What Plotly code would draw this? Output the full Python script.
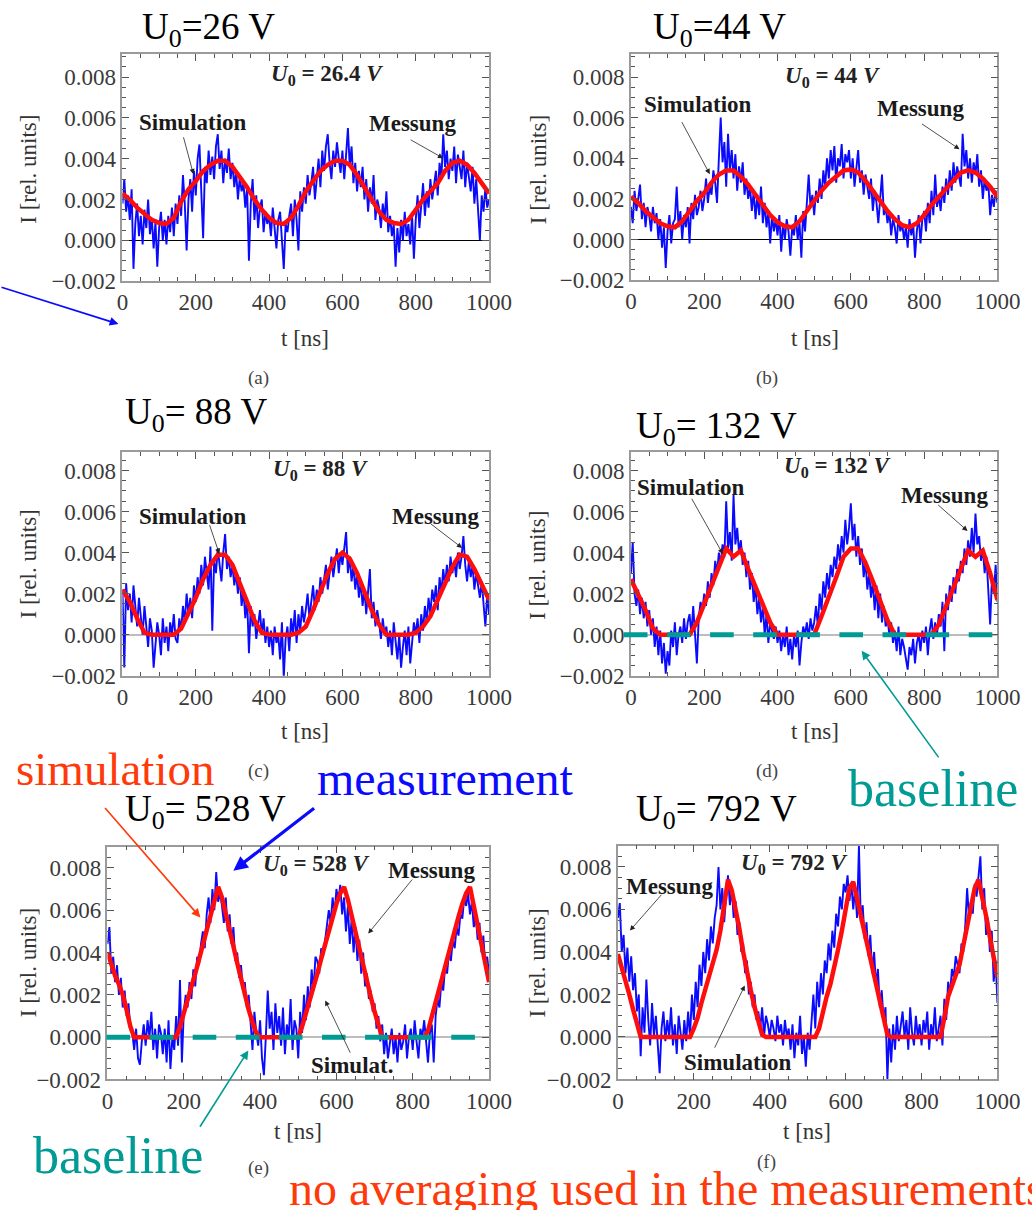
import plotly.graph_objects as go

W, H = 1032, 1210
# layout positions below are given in window pixels; the page shows the figure
# slightly reduced and shifted, so they are converted with this linear map
VIEW_KX, VIEW_BX = 0.973, 5.4
VIEW_KY, VIEW_BY = 0.990, -1.3
SCALE = 1e-4  # values below are in units of 1e-4 (rel. units)

# time grids [ns]
T_MEAS = list(range(0, 1001, 5))
T_SIM20 = list(range(0, 1001, 20))
T_SIM10 = list(range(0, 1001, 10))

# ---------------- (a) U0 = 26.4 V ----------------
SIM_A = [23, 20, 16, 13, 10, 8.5, 8, 11, 19, 25,
         29, 34, 37, 39, 39, 36, 31, 26, 20, 15,
         11, 8.5, 8, 11, 17, 24, 29, 34, 37, 39,
         39, 37, 32, 26, 20, 14, 10, 8.5, 8, 10,
         15, 20, 24, 28, 34, 38, 39, 37, 33, 28,
         23]
MEAS_A = [18, 30, 14, 22, 10, 25, -14, 8, 18, 2,
          12, -2, 15, 6, 20, 3, 11, -4, 9, -13,
          6, 14, 0, 10, -2, 12, 4, 16, 2, 18,
          8, 22, 12, 32, 18, -5, 20, 30, 14, 34,
          22, 40, 47, 25, 1, 36, 28, 44, 32, 41,
          30, 46, 52, 35, 44, 28, 40, 33, 45, 30,
          38, 26, 34, 20, 31, 24, 28, 16, 26, -10,
          18, 30, 10, 22, 6, 16, 20, 4, 14, 8,
          12, 2, 16, 6, -4, 10, 14, 0, -14, 8,
          4, 12, 18, 2, 20, 10, -5, 24, 14, 26,
          18, 32, 22, 28, 36, 20, 30, 40, 26, 44,
          34, 46, 52, 38, 30, 44, 36, 48, 40, 33,
          44, 30, 42, 55, 36, 46, 28, 38, 24, 34,
          26, 36, 20, 30, 14, 26, 18, 32, 10, 20,
          16, 6, 18, 10, 24, 4, 12, 2, 8, -13,
          6, -6, 10, 0, 14, 2, 8, -2, 12, -9,
          10, 22, 6, 18, 28, 12, 24, 16, 30, 20,
          28, 34, 22, 38, 30, 52, 36, 44, 30, 40,
          34, 46, 28, 42, 36, 30, 44, 26, 38, 32,
          24, 36, 18, 30, 12, 0, 22, 14, 26, 16,
          20]

# ---------------- (b) U0 = 44 V ----------------
SIM_B = [21, 18, 14, 11, 8, 6.5, 6, 9, 14, 19,
         23, 28, 32, 34, 34, 31, 27, 22, 17, 12,
         8.5, 6.5, 6, 9, 14, 19, 24, 28, 31, 34,
         34.5, 33, 29, 24, 19, 14, 10, 7, 6, 8,
         12, 17, 21, 25, 29, 33, 34, 33, 30, 26,
         21]
MEAS_B = [16, 8, 24, 14, 20, 27, 10, 18, 6, 16,
          12, 4, 16, 8, 13, 0, 10, -4, 6, -14,
          4, 12, -2, 8, 10, 26, 6, 14, 0, 12,
          6, 16, -2, 18, 10, 22, 12, 16, 24, 14,
          20, 30, 18, 26, 22, 34, 28, 18, 40, 60,
          38, 48, 26, 52, 34, 44, 30, 42, 24, 36,
          28, 38, 22, 30, 20, 26, 14, 24, 10, 22,
          12, 26, 8, 18, 6, 14, -2, 12, 4, 10,
          2, 12, -6, 8, 0, 10, 4, -8, 6, 2,
          12, 0, 8, -9, 14, 4, 18, 32, 16, 22,
          12, 24, 18, 30, 20, 34, 26, 40, 30, 44,
          34, 46, 28, 40, 36, 47, 30, 42, 38, 44,
          30, 40, 26, 36, 44, 28, 34, 22, 32, 26,
          20, 30, 14, 24, 18, 8, 20, 32, 12, 16,
          8, 14, 2, 10, 6, -2, 12, 4, 8, 0,
          6, -4, 10, 2, 8, -9, 4, 12, -2, 10,
          14, 4, 18, 8, 24, 12, 32, 16, 22, 14,
          26, 18, 30, 22, 34, 24, 38, 28, 36, 30,
          26, 52, 36, 44, 30, 40, 28, 38, 32, 42,
          26, 34, 20, 30, 24, 28, 12, 22, 16, 24,
          18]

# ---------------- (c) U0 = 88 V ----------------
SIM_C = [22, 16, 8, 1, 0, 0, 0, 0, 3, 10,
         18, 27, 34, 39, 39, 34, 25, 15, 7, 1,
         0, 0, 0, 0, 1, 4, 12, 21, 30, 37,
         40, 37, 30, 21, 12, 5, 0, 0, 0, 0,
         1, 4, 9, 17, 26, 33, 39, 38, 32, 25,
         17]
MEAS_C = [22, -16, 25, 12, 20, 6, 24, 14, 4, 18,
          10, 0, 14, 4, -6, 8, 2, -16, -4, 6,
          0, -10, 8, -4, 4, -8, 6, 0, 10, -2,
          -4, 8, 2, 14, 6, 20, 10, 18, 8, 24,
          16, 28, 20, 34, 24, 38, 30, 22, 43, 2,
          36, 30, 42, 34, 26, 40, 49, 32, 38, 28,
          34, 24, 30, 20, 28, 14, 22, 8, 18, -9,
          14, 4, 10, -2, 6, 12, 0, 8, -4, 4,
          -6, 2, -10, 4, -4, 0, -12, 6, -21, -2,
          4, -8, 8, 0, 12, -4, 10, 2, 14, 6,
          12, 20, 8, 16, 24, 12, 22, 16, 28, 20,
          26, 34, 22, 30, 38, 28, 36, 42, 30, 40,
          34, 44, 50, 30, 38, 26, 34, 22, 30, 18,
          26, 14, 22, 10, 20, 32, 8, 16, 4, 12,
          6, -2, 8, 0, 4, -6, 2, -10, 6, -4,
          -12, 0, -16, -6, 2, -10, 4, -14, -2, 6,
          0, 8, -4, 10, 2, 14, 6, 18, 10, 22,
          16, 24, 12, 28, 20, 32, 24, 34, 26, 38,
          30, 36, 28, 40, 32, 38, 48, 34, 26, 36,
          28, 34, 22, 30, 24, 18, 26, 14, 4, 20,
          10]

# ---------------- (d) U0 = 132 V ----------------
SIM_D = [27, 20, 12, 3, 0, 0, 0, 0, 0, 6,
         15, 24, 33, 42, 38, 41, 32, 23, 14, 6,
         0, 0, 0, 0, 0, 0, 9, 18, 28, 38,
         42, 42, 35, 26, 16, 7, 0, 0, 0, 0,
         0, 0, 5, 14, 23, 32, 41, 38, 41, 30,
         17]
MEAS_D = [30, 45, 20, 14, 22, 10, 18, 8, 16, 4,
          12, 0, 8, -6, 4, -10, 2, -14, -4, -19,
          -8, -15, 2, -6, 6, -10, 0, 4, -4, 8,
          -2, 6, 10, 0, 14, -2, -14, 8, 16, 12,
          20, 14, 26, 18, 30, 24, 36, 30, 40, 34,
          44, 38, 65, 42, 50, 36, 68, 44, 52, 40,
          46, 34, 40, 28, 36, 22, 30, 16, 24, 10,
          18, 6, 14, 0, 10, -4, 6, 2, -2, 4,
          -4, 2, -8, 0, -6, 4, -10, -2, -12, 0,
          -6, 2, -15, -4, 4, 0, 6, -2, 8, 2,
          6, 14, 4, 20, 12, 26, 18, 30, 22, 34,
          28, 38, 32, 44, 36, 48, 40, 56, 44, 52,
          64, 46, 54, 38, 48, 34, 42, 28, 36, 22,
          30, 18, 26, 12, 24, 8, 20, 6, 14, 4,
          8, 0, 6, -4, 2, -8, 4, -10, -2, -6,
          -12, -17, -6, -10, -2, -14, -4, 0, -8, 2,
          -4, 4, -10, 2, 8, -2, 6, 0, 10, 4,
          16, -8, 20, 12, 24, 16, 28, 20, 32, 26,
          36, 30, 42, 34, 46, 38, 52, 40, 59, 44,
          48, 36, 42, 30, 38, 24, 5, 28, 20, 34,
          16]

# ---------------- (e) U0 = 528 V ----------------
SIM_E = [40, 34, 29, 25, 20, 13, 5, 0, 0, 0,
         0, 0, 0, 0, 0, 0, 0, 0, 0, 5,
         12, 18, 24, 30, 37, 44, 51, 58, 65, 71,
         66, 59, 51, 43, 35, 27, 20, 13, 7, 2,
         0, 0, 0, 0, 0, 0, 0, 0, 0, 0,
         0, 5, 11, 17, 23, 30, 37, 44, 51, 57,
         63, 68, 71, 65, 57, 50, 42, 34, 26, 19,
         12, 5, 0, 0, 0, 0, 0, 0, 0, 0,
         0, 0, 0, 0, 3, 10, 16, 23, 29, 36,
         43, 50, 57, 63, 68, 71, 63, 53, 44, 35,
         26]
MEAS_E = [44, 52, 30, 38, 26, 34, 20, 28, 14, 22,
          10, 16, 4, 2, -6, 4, -10, -13, -2, 6,
          -4, 8, 0, 12, -6, 4, -10, 6, 2, -8,
          4, -12, 8, -15, 0, -6, 10, -4, 27, -12,
          12, 20, 14, 26, 18, 32, 24, 38, 34, 44,
          50, 42, 58, 66, 54, 70, 60, 78, 64, 68,
          62, 54, 66, 50, 58, 44, 52, 36, 40, 28,
          34, 22, 26, 14, 20, 6, -6, 12, 2, -4,
          8, -10, -18, 0, 22, 4, 12, -6, 16, 2,
          10, -4, 14, -8, 6, 0, 18, -6, 8, 4,
          -10, 12, 2, 20, 8, 24, 14, 32, 22, 38,
          36, 30, 42, 38, 46, 52, 60, 54, 66, 58,
          70, 64, 72, 58, 66, 50, 62, 44, 56, 40,
          52, 36, 46, 30, 40, 24, 30, 18, 22, 12,
          16, 4, 10, -2, 6, -8, 2, -10, -4, 4,
          -8, 0, -12, 2, -6, -2, 6, -10, 0, 4,
          -6, 8, -2, -10, 4, 0, 8, -4, -12, 2,
          6, -12, 10, 18, 14, 26, 22, 34, 30, 40,
          36, 46, 42, 52, 48, 58, 56, 66, 62, 68,
          58, 64, 52, 58, 46, 54, 40, 48, 34, 38,
          30]

# ---------------- (f) U0 = 792 V ----------------
SIM_F = [39, 33, 27, 20, 13, 6, 0, 0, 0, 0,
         0, 0, 0, 0, 0, 0, 0, 0, 0, 0,
         4, 9, 16, 22, 28, 34, 41, 50, 63, 74,
         69, 61, 51, 40, 30, 22, 14, 7, 1, 0,
         0, 0, 0, 0, 0, 0, 0, 0, 0, 0,
         0, 0, 0, 4, 12, 19, 25, 32, 41, 50,
         60, 70, 73, 65, 56, 47, 39, 32, 25, 17,
         9, 1, 0, 0, 0, 0, 0, 0, 0, 0,
         0, 0, 0, 0, 0, 0, 9, 19, 24, 29,
         34, 43, 52, 61, 70, 74, 66, 57, 47, 37,
         28]
MEAS_F = [56, 63, 40, 48, 30, 42, 26, 38, 22, 30,
          12, 20, -9, 14, 2, 27, 8, -4, 16, 0,
          10, -6, -17, 4, 12, -2, 8, 0, 14, -4,
          6, -8, 10, 2, -6, 8, -2, 12, 0, 20,
          8, 26, 14, 34, 24, 40, 30, 46, 36, 52,
          44, 56, 62, 80, 60, 70, 54, 66, 76, 62,
          70, 56, 64, 48, 54, 40, 44, 30, 36, 20,
          26, 14, 20, 8, 12, 4, 14, 0, 10, 6,
          0, 8, 4, -2, 10, 2, 6, -4, 8, 0,
          4, -6, 6, -10, 2, -4, 10, -8, 0, -14,
          2, -6, 10, 20, 4, 26, 14, 30, 20, 36,
          30, 44, 36, 50, 42, 58, 52, 66, 60, 72,
          68, 76, 64, 72, 60, 70, 56, 90, 54, 62,
          46, 54, 38, 48, 30, 40, 24, 32, 14, 22,
          8, 14, -20, 4, -12, 6, -6, 10, -2, 4,
          12, 0, 8, -6, 14, 2, -4, 10, 0, 6,
          -4, 8, 2, 12, -6, 6, 0, 14, -2, 4,
          10, -4, 18, 8, 26, 20, 32, 28, 38, 34,
          30, 44, 40, 52, 70, 56, 64, 58, 72, 66,
          74, 85, 60, 70, 48, 56, 40, 50, 26, 36,
          16]

U0_HEADERS = ["U<sub>0</sub>=26 V", "U<sub>0</sub>=44 V", "U<sub>0</sub>= 88 V",
              "U<sub>0</sub>= 132 V", "U<sub>0</sub>= 528 V", "U<sub>0</sub>= 792 V"]
U0_INNER = ["26.4", "44", "88", "132", "528", "792"]
CAPTIONS = ["(a)", "(b)", "(c)", "(d)", "(e)", "(f)"]
X_TICKS = [0, 200, 400, 600, 800, 1000]
Y_TICKS = [-0.002, 0.0, 0.002, 0.004, 0.006, 0.008]
Y_MIN = -0.002
BASELINE_LEVEL = 0.0

BLUE = "#0a0aff"
RED = "#ff0d0d"
TEAL = "#009b94"
ORANGE = "#ff3a0a"
SERIF = "Liberation Serif"


def fx(px):
    # window pixel column -> figure paper fraction
    return (px - VIEW_BX) / VIEW_KX / W


def fy(py):
    # window pixel row -> figure paper fraction
    return 1 - (py - VIEW_BY) / VIEW_KY / H


panels = [
    dict(meas=MEAS_A, sim=SIM_A, tsim=T_SIM20, box=(122, 489, 53, 280), ytop=0.00912, zc="#000000", zw=1),
    dict(meas=MEAS_B, sim=SIM_B, tsim=T_SIM20, box=(631, 998, 53, 279), ytop=0.00912, zc="#000000", zw=1),
    dict(meas=MEAS_C, sim=SIM_C, tsim=T_SIM20, box=(122, 489, 451, 675), ytop=0.0089, zc="#bdbdbd", zw=2),
    dict(meas=MEAS_D, sim=SIM_D, tsim=T_SIM20, box=(631, 998, 451, 675), ytop=0.0089, zc="#bdbdbd", zw=2),
    dict(meas=MEAS_E, sim=SIM_E, tsim=T_SIM10, box=(107, 489, 846, 1079), ytop=0.009, zc="#bdbdbd", zw=2),
    dict(meas=MEAS_F, sim=SIM_F, tsim=T_SIM10, box=(618, 998, 845, 1079), ytop=0.009, zc="#bdbdbd", zw=2),
]

fig = go.Figure()
layout = dict(width=W, height=H, autosize=False, margin=dict(l=0, r=0, t=0, b=0, pad=0),
              paper_bgcolor="white", plot_bgcolor="white", showlegend=False)

tickfont = dict(family=SERIF, size=23, color="#3a3a3a")

for i, p in enumerate(panels):
    assert len(p["meas"]) == len(T_MEAS) and len(p["sim"]) == len(p["tsim"])
    n = "" if i == 0 else str(i + 1)
    l, r, t, b = p["box"]
    fig.add_trace(go.Scatter(x=T_MEAS, y=[v * SCALE for v in p["meas"]], mode="lines",
                             line=dict(color=BLUE, width=1.9), xaxis="x" + n, yaxis="y" + n,
                             hoverinfo="skip"))
    fig.add_trace(go.Scatter(x=p["tsim"], y=[v * SCALE for v in p["sim"]], mode="lines",
                             line=dict(color=RED, width=4.5), xaxis="x" + n, yaxis="y" + n,
                             hoverinfo="skip"))
    axis_common = dict(showgrid=False, showline=True, linecolor="#9a9a9a", linewidth=1.5,
                       mirror="allticks", ticks="inside", ticklen=7, tickwidth=1.2,
                       tickcolor="#555555", tickfont=tickfont)
    layout["xaxis" + n] = dict(axis_common, domain=[fx(l), fx(r)], anchor="y" + n,
                               range=[0, 1000], tickvals=X_TICKS, zeroline=False,
                               minor=dict(ticks="inside", ticklen=4, tickcolor="#555555", dtick=50))
    layout["yaxis" + n] = dict(axis_common, domain=[fy(b), fy(t)], anchor="x" + n,
                               range=[Y_MIN, p["ytop"]], tickvals=Y_TICKS, tickformat=".3f",
                               zeroline=True, zerolinecolor=p["zc"], zerolinewidth=p["zw"],
                               minor=dict(ticks="inside", ticklen=4, tickcolor="#555555", dtick=0.0005))

fig.update_layout(**layout)

ann = []


def text(x, y, s, size, color="black", xanchor="center", yanchor="middle", angle=0):
    ann.append(dict(x=fx(x), y=fy(y), xref="paper", yref="paper", text=s, showarrow=False,
                    xanchor=xanchor, yanchor=yanchor, textangle=angle,
                    font=dict(family=SERIF, size=size, color=color)))


def arrow(hx, hy, tx, ty, color="black", width=1.0, size=1.0):
    ann.append(dict(x=fx(hx), y=fy(hy), xref="paper", yref="paper", text="", showarrow=True,
                    ax=(tx - hx) / VIEW_KX, ay=(ty - hy) / VIEW_KY, axref="pixel", ayref="pixel",
                    arrowhead=2, arrowsize=size, arrowwidth=width, arrowcolor=color, standoff=0))


# panel headers, captions, axis titles, inner labels
header_pos = [(208, 28), (720, 28), (196, 414), (717, 428), (205, 811), (717, 811)]
caption_pos = [(258, 377), (767, 377), (258, 770), (767, 770), (258, 1168), (767, 1162)]
ylab_pos = [(28, 168), (538, 168), (28, 563), (538, 564), (28, 962), (538, 962)]
xlab_pos = [(305, 337), (815, 337), (305, 731), (815, 731), (298, 1131), (807, 1131)]
inner_pos = [(327, 74), (833, 76), (320, 469), (838, 466), (316, 864), (795, 863)]
for i in range(6):
    text(*header_pos[i], U0_HEADERS[i], 37)
    text(*caption_pos[i], CAPTIONS[i], 19, color="#444444")
    text(*ylab_pos[i], "I [rel. units]", 23, color="#333333", angle=-90)
    text(*xlab_pos[i], "t [ns]", 23, color="#333333")
    text(*inner_pos[i], "<b><i>U</i><sub>0</sub> = " + U0_INNER[i] + " <i>V</i></b>", 23, color="#222222")

# "Simulation" / "Messung" labels with pointer arrows
tags = [
    ("Simulation", (193, 121), (183, 135), (193, 173)),
    ("Messung", (412, 122), (410, 138), (443, 157)),
    ("Simulation", (698, 103), (682, 120), (710, 173)),
    ("Messung", (921, 107), (922, 122), (960, 148)),
    ("Simulation", (193, 516), (209, 523), (219, 553)),
    ("Messung", (435, 516), (430, 522), (462, 547)),
    ("Simulation", (691, 487), (692, 497), (723, 553)),
    ("Messung", (945, 495), (938, 503), (968, 530)),
    ("Messung", (431, 870), (412, 878), (368, 933)),
    ("Simulat.", (352, 1065), (350, 1053), (325, 1000)),
    ("Messung", (670, 886), (662, 893), (630, 930)),
    ("Simulation", (738, 1062), (715, 1048), (745, 985)),
]
for s, (lx, ly), (tx, ty), (hx, hy) in tags:
    text(lx, ly, "<b>" + s + "</b>", 23, color="#1a1a1a")
    arrow(hx, hy, tx, ty, color="#222222", width=0.8, size=1.3)

# overlaid remarks
text(115, 768, "simulation", 47, color=ORANGE)
arrow(200, 917, 106, 807, color=ORANGE, width=1.6, size=1.1)
text(445, 778, "measurement", 48, color=BLUE)
arrow(233, 870, 313, 807, color=BLUE, width=3.2, size=0.9)
text(933, 788, "baseline", 52, color=TEAL)
arrow(862, 650, 938, 757, color=TEAL, width=1.6, size=1.1)
text(118, 1155, "baseline", 52, color=TEAL)
arrow(248, 1050, 200, 1127, color=TEAL, width=1.6, size=1.1)
text(287, 1188, "no averaging used in the measurements", 48, color=ORANGE, xanchor="left")
arrow(118, 323, 2, 286, color=BLUE, width=1.6, size=1.1)

fig.update_layout(annotations=ann)


def level_to_paper(p, level):
    # map an I value of a panel onto the page through that panel's y axis
    top_px, bot_px = p["box"][2], p["box"][3]
    frac = (level - Y_MIN) / (p["ytop"] - Y_MIN)
    return fy(bot_px) + frac * (fy(top_px) - fy(bot_px))


# dashed baseline markers at I = 0 in panels (d) and (e); they run a little past the frame
for p, (x0, x1) in ((panels[3], (624, 1008)), (panels[4], (106, 490))):
    yb = level_to_paper(p, BASELINE_LEVEL)
    fig.add_shape(type="line", xref="paper", yref="paper", x0=fx(x0), x1=fx(x1), y0=yb, y1=yb,
                  line=dict(color=TEAL, width=5, dash="23.6px,19.5px"), layer="above")

fig.write_html("out.html")
